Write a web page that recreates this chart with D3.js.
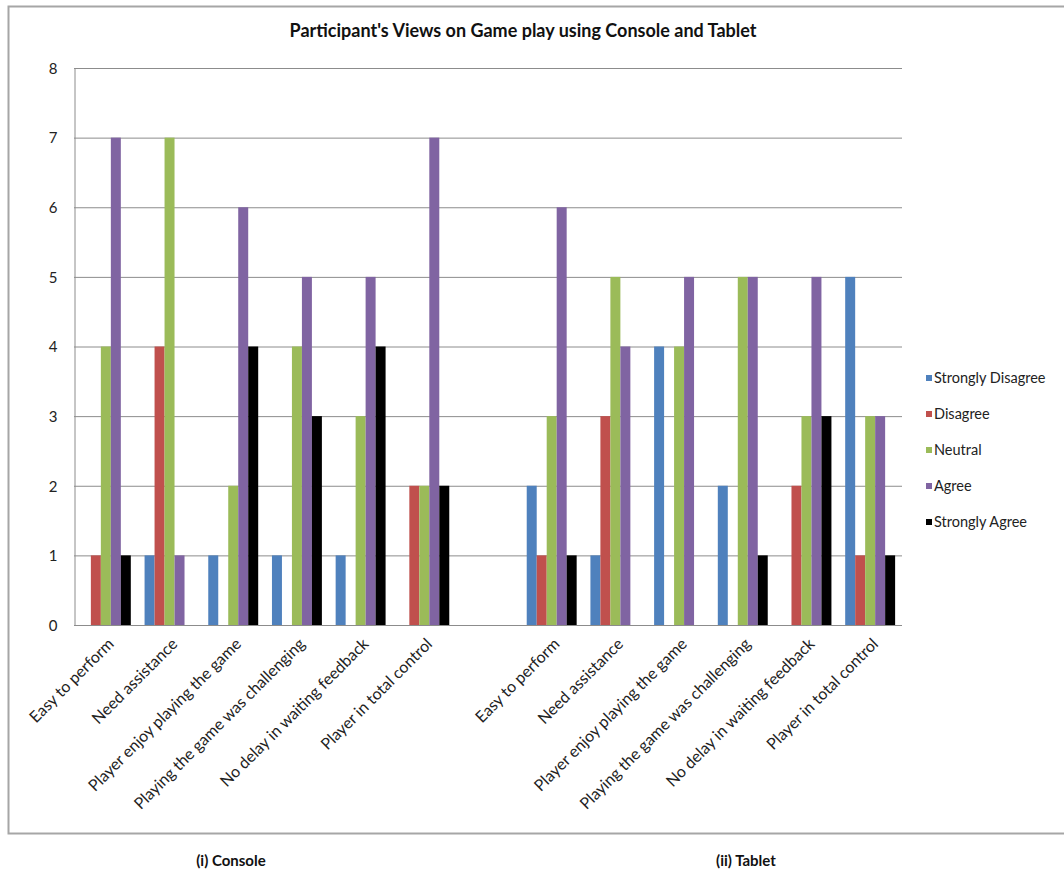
<!DOCTYPE html>
<html>
<head>
<meta charset="utf-8">
<script src="https://cdn.jsdelivr.net/npm/d3@7"></script>
<style>
  html, body { margin: 0; padding: 0; background: #fff; }
  svg { display: block; font-family: Lato, "Open Sans", sans-serif; }
</style>
</head>
<body>
<svg id="chart" width="1064" height="877"></svg>
<script>
// Survey statements (same set for both devices)
const statements = [
  "Easy to perform",
  "Need assistance",
  "Player enjoy playing the game",
  "Playing the game was challenging",
  "No delay in waiting feedback",
  "Player in total control"
];

// Response levels
const responses = ["Strongly Disagree", "Disagree", "Neutral", "Agree", "Strongly Agree"];
const responseColors = ["#4F81BD", "#C0504D", "#9BBB59", "#8064A2", "#000000"];

// Counts per statement, in response order (SD, D, N, A, SA)
const consoleCounts = [
  [0, 1, 4, 7, 1],
  [1, 4, 7, 1, 0],
  [1, 0, 2, 6, 4],
  [1, 0, 4, 5, 3],
  [1, 0, 3, 5, 4],
  [0, 2, 2, 7, 2]
];
const tabletCounts = [
  [2, 1, 3, 6, 1],
  [1, 3, 5, 4, 0],
  [4, 0, 4, 5, 0],
  [2, 0, 5, 5, 1],
  [0, 2, 3, 5, 3],
  [5, 1, 3, 3, 1]
];

const yTicks = [0, 1, 2, 3, 4, 5, 6, 7, 8];
const groupCaptions = ["(i) Console", "(ii) Tablet"];

const svg = d3.select("#chart");

// Outer frame
svg.append("rect")
  .attr("x", 8.5).attr("y", 6.5)
  .attr("width", 1062).attr("height", 827)
  .attr("fill", "#fff")
  .attr("stroke", "#a6a6a6")
  .attr("stroke-width", 2);

// Slots: console statements, one empty slot, tablet statements
const slots = [
  ...statements.map((s, i) => ({ key: "console-" + i, label: s, counts: consoleCounts[i] })),
  { key: "gap", label: "", counts: null },
  ...statements.map((s, i) => ({ key: "tablet-" + i, label: s, counts: tabletCounts[i] }))
];

const plot = { left: 74, right: 902, top: 68, bottom: 625 };

const x = d3.scaleBand()
  .domain(slots.map(d => d.key))
  .range([plot.left, plot.right])
  .paddingInner(0.216)
  .paddingOuter(0.108);

const xInner = d3.scaleBand()
  .domain(responses)
  .range([0, x.bandwidth()]);

const y = d3.scaleLinear()
  .domain([0, 8])
  .range([plot.bottom, plot.top]);

// Horizontal gridlines
svg.append("g")
  .selectAll("line")
  .data(yTicks)
  .join("line")
  .attr("x1", plot.left).attr("x2", plot.right)
  .attr("y1", d => y(d) + 0.5).attr("y2", d => y(d) + 0.5)
  .attr("stroke", "#8c8c8c")
  .attr("stroke-width", 1);

// Y axis
const yAxis = svg.append("g")
  .attr("transform", `translate(${plot.left + 0.5},0.5)`)
  .call(d3.axisLeft(y).tickValues(yTicks).tickSize(0).tickPadding(17).tickFormat(d3.format("d")));
yAxis.select(".domain").attr("stroke", "#8c8c8c");
yAxis.selectAll("text")
  .attr("font-family", "Lato, sans-serif")
  .attr("font-size", 15)
  .attr("fill", "#222");

// Bars
const groups = svg.append("g")
  .selectAll("g")
  .data(slots.filter(d => d.counts))
  .join("g")
  .attr("transform", d => `translate(${x(d.key)},0)`);

groups.selectAll("rect")
  .data(d => d.counts.map((v, i) => ({ response: responses[i], value: v, color: responseColors[i] })))
  .join("rect")
  .attr("x", d => xInner(d.response))
  .attr("width", xInner.bandwidth())
  .attr("y", d => y(d.value))
  .attr("height", d => y(0) - y(d.value))
  .attr("fill", d => d.color);

// X axis baseline
svg.append("line")
  .attr("x1", plot.left).attr("x2", plot.right)
  .attr("y1", y(0) + 0.5).attr("y2", y(0) + 0.5)
  .attr("stroke", "#8c8c8c");

// Category labels, rotated
svg.append("g")
  .selectAll("text")
  .data(slots.filter(d => d.label))
  .join("text")
  .attr("transform", d => `translate(${x(d.key) + x.bandwidth() / 2 + 5},${y(0) + 16}) rotate(-45)`)
  .attr("text-anchor", "end")
  .attr("dy", "0.35em")
  .attr("font-size", 16)
  .attr("fill", "#222")
  .text(d => d.label);

// Title
svg.append("text")
  .attr("x", 523).attr("y", 37)
  .attr("text-anchor", "middle")
  .attr("font-size", 18)
  .attr("font-weight", "bold")
  .attr("fill", "#111")
  .text("Participant's Views on Game play using Console and Tablet");

// Legend
const legend = svg.append("g")
  .selectAll("g")
  .data(responses)
  .join("g")
  .attr("transform", (d, i) => `translate(926,${378 + i * 36})`);
legend.append("rect")
  .attr("x", 0).attr("y", -3)
  .attr("width", 6).attr("height", 6)
  .attr("fill", (d, i) => responseColors[i]);
legend.append("text")
  .attr("x", 8).attr("dy", "0.35em")
  .attr("font-size", 14.5)
  .attr("fill", "#222")
  .text(d => d);

// Captions below each group
svg.append("g")
  .selectAll("text")
  .data(groupCaptions)
  .join("text")
  .attr("x", (d, i) => i === 0 ? 231 : 746)
  .attr("y", 866)
  .attr("text-anchor", "middle")
  .attr("font-size", 15)
  .attr("font-weight", "bold")
  .attr("fill", "#111")
  .text(d => d);
</script>
</body>
</html>
